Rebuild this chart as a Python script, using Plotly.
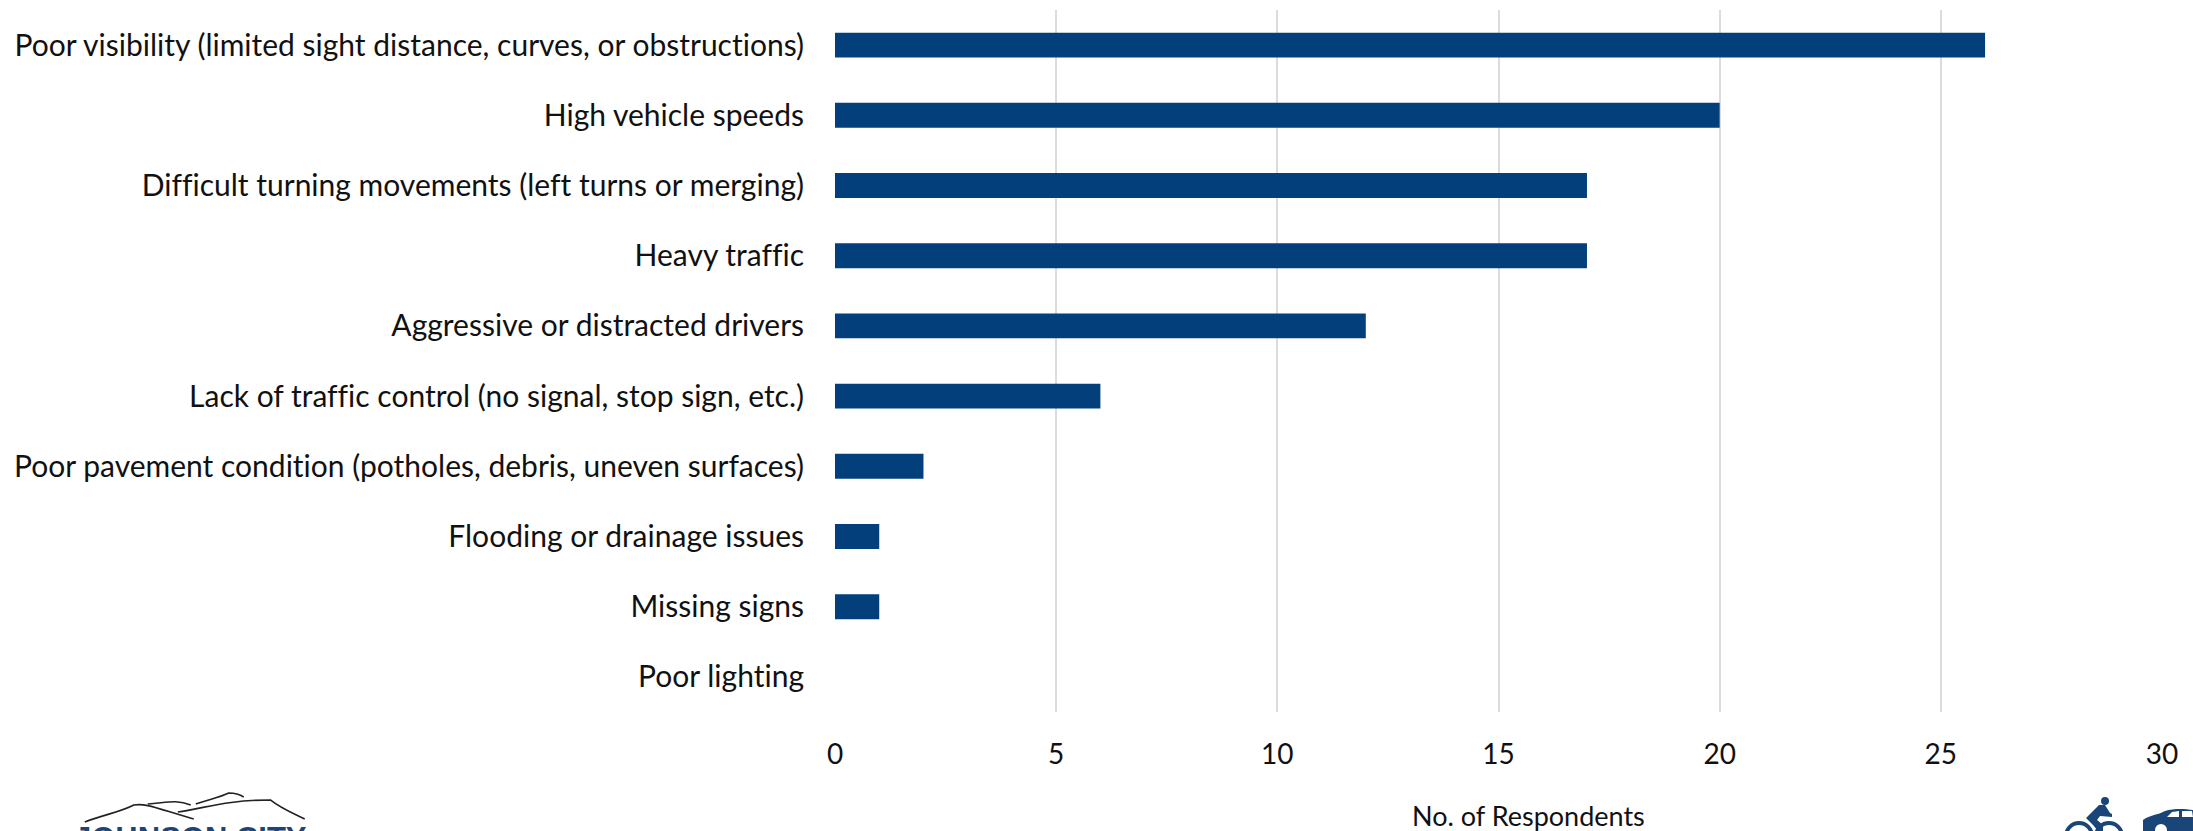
import plotly.graph_objects as go

categories = [
    "Poor visibility (limited sight distance, curves, or obstructions)",
    "High vehicle speeds",
    "Difficult turning movements (left turns or merging)",
    "Heavy traffic",
    "Aggressive or distracted drivers",
    "Lack of traffic control (no signal, stop sign, etc.)",
    "Poor pavement condition (potholes, debris, uneven surfaces)",
    "Flooding or drainage issues",
    "Missing signs",
    "Poor lighting",
]
values = [26, 20, 17, 17, 12, 6, 2, 1, 1, 0]
x_ticks = [0, 5, 10, 15, 20, 25, 30]
axis_title = "No. of Respondents"
logo_text = "JOHNSON CITY"

W, H = 2193, 831
L, R, T, B = 834.5, 31, 10, 119
NAVY = "#03407b"
ICON = "#1a4579"
FONT = "Lato"
TEXT = "#111111"


def fx(x):
    return (x - L) / (W - L - R)


def fy(y):
    return (H - B - y) / (H - T - B)


def to_page(path):
    out, toks, i = [], path.split(), 0
    while i < len(toks):
        if toks[i].isalpha():
            out.append(toks[i])
            i += 1
        else:
            out += [f"{fx(float(toks[i])):.5f}", f"{fy(float(toks[i + 1])):.5f}"]
            i += 2
    return " ".join(out)


fig = go.Figure(
    go.Bar(
        x=values,
        y=categories,
        orientation="h",
        width=0.355,
        marker=dict(color=NAVY, line=dict(width=0)),
        hoverinfo="x+y",
    )
)

annotations = [
    dict(text=axis_title, xref="paper", yref="paper", x=fx(1528), y=fy(815), showarrow=False,
         xanchor="center", yanchor="middle", font=dict(family=FONT, size=27, color=TEXT)),
    dict(text="<b>" + logo_text + "</b>", xref="paper", yref="paper", x=fx(190), y=fy(838), showarrow=False,
         xanchor="center", yanchor="middle", font=dict(family="Liberation Sans", size=31, color=ICON)),
]

# decorative logo and icon strokes (page furniture, not data)
logo_paths = [
    "M 84 822 C 105 814 120 812 133 805 C 145 803 155 808 193 819",
    "M 147 804 C 165 803 175 799 190 805",
    "M 177 812 C 205 808 225 800 270 800 C 280 808 290 812 304 819",
    "M 195 804 C 210 799 220 797 228 793 C 235 793 240 795 243 797",
]
shapes = [
    dict(type="path", path=to_page(p), xref="paper", yref="paper", layer="above",
         line=dict(color="#222222", width=1.6))
    for p in logo_paths
]
icon_fill = [
    # rider
    "M 2086 818 L 2099 805 L 2105 805 L 2110 813 L 2112 814 L 2112 817 L 2100 816 L 2097 820 L 2103 825 L 2103 831 L 2098 831 L 2093 825 Z",
    # car body
    "M 2143 831 L 2143 820 C 2150 815 2158 815 2165 811 C 2175 808 2185 809 2193 810 L 2193 831 Z",
]
for p in icon_fill:
    shapes.append(dict(type="path", path=to_page(p), xref="paper", yref="paper", layer="above",
                       fillcolor=ICON, line=dict(width=0)))
# rider head
shapes.append(dict(type="circle", xref="paper", yref="paper", layer="above",
                   x0=fx(2101), x1=fx(2109), y0=fy(805), y1=fy(797), fillcolor=ICON, line=dict(width=0)))
# bicycle wheels and car windows / wheel arch
for cx, cy, r in [(2079, 836, 13), (2109, 836, 13)]:
    shapes.append(dict(type="circle", xref="paper", yref="paper", layer="above",
                       x0=fx(cx - r), x1=fx(cx + r), y0=fy(cy + r), y1=fy(cy - r),
                       line=dict(color=ICON, width=4)))
shapes.append(dict(type="circle", xref="paper", yref="paper", layer="above",
                   x0=fx(2153), x1=fx(2169), y0=fy(838), y1=fy(822),
                   fillcolor="white", line=dict(color=ICON, width=4)))
shapes.append(dict(type="path", path=to_page("M 2167 817 L 2172 812 L 2179 811 L 2179 817 Z"),
                   xref="paper", yref="paper", layer="above", fillcolor="white", line=dict(width=0)))
shapes.append(dict(type="path", path=to_page("M 2182 811 L 2192 811 L 2193 817 L 2182 817 Z"),
                   xref="paper", yref="paper", layer="above", fillcolor="white", line=dict(width=0)))

fig.update_layout(
    width=W,
    height=H,
    autosize=False,
    margin=dict(l=L, r=R, t=T, b=B, pad=0),
    paper_bgcolor="white",
    plot_bgcolor="white",
    showlegend=False,
    font=dict(family=FONT, color=TEXT),
    annotations=annotations,
    shapes=shapes,
    xaxis=dict(
        range=[0, 30],
        tickvals=x_ticks,
        showgrid=True,
        gridcolor="#dcdcdc",
        gridwidth=2,
        zeroline=False,
        showline=False,
        ticks="",
        tickfont=dict(family=FONT, size=28, color=TEXT),
        ticklabelstandoff=23,
    ),
    yaxis=dict(
        categoryorder="array",
        categoryarray=categories,
        autorange="reversed",
        showgrid=False,
        zeroline=False,
        showline=False,
        ticks="",
        tickfont=dict(family=FONT, size=30, color=TEXT),
        ticklabelstandoff=30,
        automargin=False,
    ),
)

fig.write_html(
    "out.html",
    config=dict(displayModeBar=False),
    post_script=(
        "document.body.style.margin='0';"
        "document.documentElement.style.overflow='hidden';"
        "var s=document.createElement('style');"
        "s.textContent=\"svg text{font-variant-ligatures:none!important;font-feature-settings:'liga' 0,'clig' 0!important}\";"
        "document.head.appendChild(s);"
    ),
)
